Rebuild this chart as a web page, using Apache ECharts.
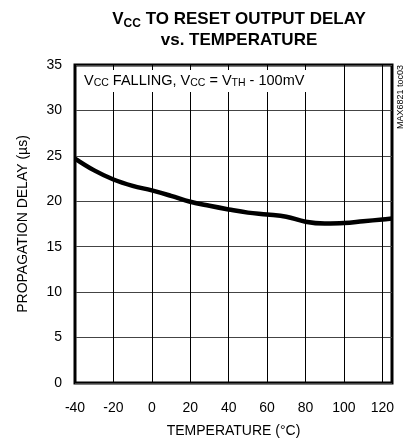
<!DOCTYPE html>
<html><head><meta charset="utf-8">
<script src="https://cdn.jsdelivr.net/npm/echarts@6/dist/echarts.min.js"></script>
<style>html,body{margin:0;padding:0;background:#fff}#c{width:409px;height:445px}</style>
</head><body><div id="c"></div>
<script>
var temperatures = [-40, -30, -20, -10, 0, 10, 20, 30, 40, 50, 60, 70, 80, 90, 100, 110, 120, 125];
var delays =       [24.7, 23.4, 22.4, 21.7, 21.2, 20.6, 19.95, 19.5, 19.1, 18.75, 18.55, 18.3, 17.75, 17.55, 17.6, 17.8, 18.0, 18.1];
var xTicks = [-40, -20, 0, 20, 40, 60, 80, 100, 120];
var yTicks = [0, 5, 10, 15, 20, 25, 30, 35];

var FONT = "'Liberation Sans Narrow','Arial Narrow','Liberation Sans',Arial,sans-serif";
var chart = echarts.init(document.getElementById('c'));
chart.setOption({
  animation: false,
  title: {
    text: 'V{sub|CC} TO RESET OUTPUT DELAY\nvs. TEMPERATURE',
    left: 234, top: 4, textAlign: 'center',
    textStyle: {
      fontFamily: "'Liberation Sans',Arial,sans-serif", fontWeight: 'bold', fontSize: 17, color: '#000', lineHeight: 21,
      rich: { sub: { fontFamily: "'Liberation Sans',Arial,sans-serif", fontWeight: 'bold', fontSize: 12, color: '#000', verticalAlign: 'bottom', padding: [6,0,0,0] } }
    }
  },
  grid: { left: 75, right: 17, top: 65, bottom: 62, show: true, borderColor: '#000', borderWidth: 3, containLabel: false },
  xAxis: {
    type: 'value', min: -40, max: 125, interval: 20,
    name: 'TEMPERATURE (°C)', nameLocation: 'middle', nameGap: 41,
    nameTextStyle: { fontFamily: FONT, fontSize: 14, color: '#000' },
    axisLine: { show: false }, axisTick: { show: false },
    axisLabel: { fontFamily: FONT, fontSize: 14, color: '#000', margin: 18,
      formatter: function (v) { return xTicks.indexOf(v) >= 0 ? String(v) : ''; } },
    splitLine: { show: true, lineStyle: { color: '#000', width: 1 } }
  },
  yAxis: {
    type: 'value', min: 0, max: 35, interval: 5,
    name: 'PROPAGATION DELAY (µs)', nameLocation: 'middle', nameGap: 45,
    nameTextStyle: { fontFamily: FONT, fontSize: 14, color: '#000' },
    axisLine: { show: false }, axisTick: { show: false },
    axisLabel: { fontFamily: FONT, fontSize: 14, color: '#000', margin: 13,
      formatter: function (v) { return yTicks.indexOf(v) >= 0 ? String(v) : ''; } },
    splitLine: { show: true, lineStyle: { color: '#444', width: 1 } }
  },
  series: [{
    type: 'line', data: temperatures.map(function (t, i) { return [t, delays[i]]; }),
    smooth: 0.4, showSymbol: false, lineStyle: { color: '#000', width: 4.5 }, z: 3
  }],
  graphic: [
    { type: 'rect', left: 80, top: 70, shape: { width: 232, height: 22 }, style: { fill: '#fff' }, z: 5 },
    { type: 'text', left: 84, top: 73, z: 6,
      style: { text: 'V{s|CC} FALLING, V{s|CC} = V{s|TH} - 100mV', fontFamily: FONT, fontSize: 14.5, fill: '#000',
        rich: { s: { fontFamily: FONT, fontSize: 10.5, fill: '#000', verticalAlign: 'bottom', padding: [5,0,0,0] } } } },
    { type: 'text', x: 401, y: 65, rotation: Math.PI / 2, z: 6,
      style: { text: 'MAX6821 toc03', fontFamily: FONT, fontSize: 9, fill: '#000', align: 'right', verticalAlign: 'middle' } }
  ]
});
</script></body></html>
